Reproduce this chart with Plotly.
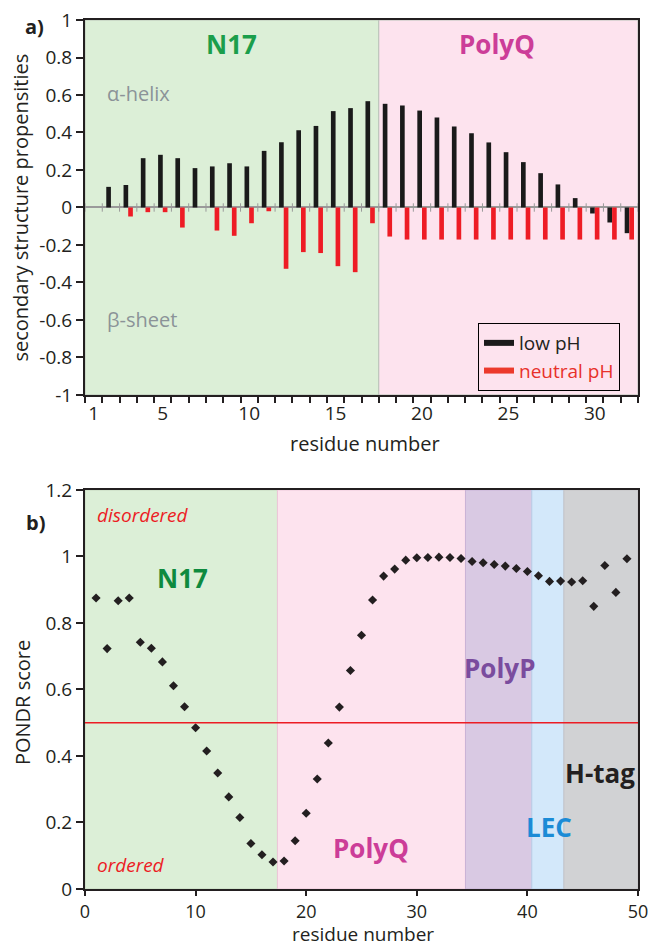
import plotly.graph_objects as go

# ---------------- data: panel a ----------------
residues_a = list(range(2, 33))
low_pH = [0.11, 0.12, 0.263, 0.281, 0.263, 0.21, 0.219, 0.236, 0.219, 0.302,
          0.348, 0.412, 0.435, 0.514, 0.53, 0.567,
          0.553, 0.544, 0.517, 0.48, 0.432, 0.396, 0.347, 0.295, 0.242, 0.183,
          0.123, 0.05, -0.032, -0.08, -0.137]
neutral_pH = [0.0, -0.048, -0.025, -0.025, -0.107, 0.0, -0.123, -0.151, -0.084, -0.02,
              -0.327, -0.238, -0.243, -0.313, -0.345, -0.084,
              -0.155, -0.171, -0.171, -0.171, -0.171, -0.171, -0.171, -0.171, -0.171,
              -0.171, -0.171, -0.171, -0.171, -0.171, -0.171]
a_xtick_vals = [1, 5, 10, 15, 20, 25, 30]
a_ytick_vals = [1, 0.8, 0.6, 0.4, 0.2, 0, -0.2, -0.4, -0.6, -0.8, -1]
a_regions = ["N17", "PolyQ"]
a_region_bounds = [0.5, 17.5, 32.5]

# ---------------- data: panel b ----------------
residues_b = list(range(1, 50))
pondr = [0.875, 0.723, 0.867, 0.875, 0.742, 0.724, 0.683, 0.611, 0.548, 0.485,
         0.415, 0.349, 0.277, 0.215, 0.137, 0.103, 0.081, 0.084, 0.145, 0.228,
         0.331, 0.439, 0.547, 0.657, 0.763, 0.869, 0.941, 0.962, 0.989, 0.996,
         0.997, 0.998, 0.997, 0.994, 0.985, 0.981, 0.976, 0.971, 0.964, 0.955,
         0.942, 0.925, 0.926, 0.923, 0.927, 0.850, 0.973, 0.892, 0.993]
threshold = 0.5
b_regions = ["N17", "PolyQ", "PolyP", "LEC", "H-tag"]
b_region_bounds = [0, 17.4, 34.4, 40.4, 43.3, 50]
b_xtick_vals = [0, 10, 20, 30, 40, 50]
b_ytick_vals = [0, 0.2, 0.4, 0.6, 0.8, 1, 1.2]

# ---------------- styles ----------------
FONT = "Open Sans"
TXT = "#231f20"
fill_colors = {"N17": "#dcefd7", "PolyQ": "#fde3ee", "PolyP": "#d9c9e3",
               "LEC": "#d3e8fa", "H-tag": "#d1d2d4"}
edge_colors = {"N17": "#c3d6be", "PolyQ": "#ecc6d8", "PolyP": "#c9b2d6",
               "LEC": "#b9cfe8", "H-tag": "#c4c4c6"}

fig = go.Figure()

fig.add_trace(go.Bar(x=residues_a, y=low_pH, marker=dict(color="#1a1a1a", line=dict(width=0)),
                     showlegend=False, xaxis="x", yaxis="y"))
fig.add_trace(go.Bar(x=residues_a, y=neutral_pH, marker=dict(color="#ee1c25", line=dict(width=0)),
                     showlegend=False, xaxis="x", yaxis="y"))
# legend entries with line swatches
fig.add_trace(go.Scatter(x=[None], y=[None], mode="lines", line=dict(color="#1a1a1a", width=6),
                         name="low pH", xaxis="x", yaxis="y"))
fig.add_trace(go.Scatter(x=[None], y=[None], mode="lines", line=dict(color="#ec3a2c", width=6),
                         name='<span style="color:#e8312a">neutral pH</span>', xaxis="x", yaxis="y"))
# small gray tick marks on the zero line
zero_ticks = [r - 0.5 for r in range(1, 34)]
fig.add_trace(go.Scatter(x=zero_ticks, y=[0] * len(zero_ticks), mode="markers",
                         marker=dict(symbol="line-ns", size=6, line=dict(color="#9a9a9a", width=1)),
                         showlegend=False, hoverinfo="skip", xaxis="x", yaxis="y"))

fig.add_trace(go.Scatter(x=residues_b, y=pondr, mode="markers",
                         marker=dict(symbol="diamond", size=7, color="#231f20"),
                         showlegend=False, xaxis="x2", yaxis="y2"))

shapes = []
for i, name in enumerate(a_regions):
    shapes.append(dict(type="rect", xref="x", yref="y", x0=a_region_bounds[i], x1=a_region_bounds[i + 1],
                       y0=-1, y1=1, fillcolor=fill_colors[name], layer="below",
                       line=dict(color="#b9c3b8", width=1)))
for i, name in enumerate(b_regions):
    shapes.append(dict(type="rect", xref="x2", yref="y2", x0=b_region_bounds[i], x1=b_region_bounds[i + 1],
                       y0=0, y1=1.2, fillcolor=fill_colors[name], layer="below",
                       line=dict(color=edge_colors[name], width=1)))
shapes.append(dict(type="line", xref="x2 domain", yref="y2", x0=0, x1=1, y0=threshold, y1=threshold,
                   line=dict(color="#ec1c24", width=1.5), layer="above"))

def fmt(v):
    return f"{v:g}"

ann = []
def label(text, x, y, xref, yref, size, color, bold=False, italic=False, xanchor="center",
          yanchor="middle", angle=0):
    t = text
    if bold:
        t = f"<b>{t}</b>"
    if italic:
        t = f"<i>{t}</i>"
    ann.append(dict(text=t, x=x, y=y, xref=xref, yref=yref, showarrow=False, xanchor=xanchor,
                    yanchor=yanchor, textangle=angle, borderpad=0,
                    font=dict(family=FONT, size=size, color=color)))

# panel a labels
label("N17", 9, 0.87, "x", "y", 26, "#1b9e4b", bold=True)
label("PolyQ", 24.35, 0.87, "x", "y", 26, "#cc3d98", bold=True)
label("α-helix", 1.7, 0.61, "x", "y", 20, "#8b9398", xanchor="left")
label("β-sheet", 1.7, -0.595, "x", "y", 20, "#8b9398", xanchor="left")
# panel b labels
label("disordered", 1.0, 1.126, "x2", "y2", 19, "#ec1c24", italic=True, xanchor="left")
label("ordered", 1.0, 0.073, "x2", "y2", 19, "#ec1c24", italic=True, xanchor="left")
label("N17", 8.86, 0.936, "x2", "y2", 26, "#0e8a3e", bold=True)
label("PolyQ", 25.86, 0.124, "x2", "y2", 26, "#cc3d98", bold=True)
label("PolyP", 37.5, 0.666, "x2", "y2", 26, "#7a4c9e", bold=True)
label("LEC", 41.95, 0.187, "x2", "y2", 26, "#1b8bd6", bold=True)
label("H-tag", 46.6, 0.35, "x2", "y2", 26, "#231f20", bold=True)
# axis titles & panel letters (paper coords)
label("residue number", 0.506, 0.5132, "paper", "paper", 20, TXT)
label("residue number", 0.503, (889 - 948) / 869, "paper", "paper", 19, TXT, yanchor="bottom")
label("secondary structure propensities", -0.1157, 0.7842, "paper", "paper", 20, TXT, angle=-90)
label("PONDR score", -0.1139, 0.214, "paper", "paper", 20, TXT, angle=-90)
label("a)", -0.092, 0.992, "paper", "paper", 20, TXT, bold=True)
label("b)", -0.090, 0.4223, "paper", "paper", 20, TXT, bold=True)

axis_common = dict(showgrid=False, showline=True, linecolor="#231f20", linewidth=2, mirror=True,
                   tickfont=dict(family=FONT, size=19, color=TXT), automargin=False)

fig.update_layout(
    width=653, height=949,
    margin=dict(l=85, r=15, t=20, b=60),
    paper_bgcolor="white", plot_bgcolor="white",
    barmode="group", bargap=0.46, bargroupgap=0,
    font=dict(family=FONT, size=19, color=TXT),
    xaxis=dict(domain=[0, 1], anchor="y", range=[0.5, 32.5], tickmode="array",
               tickvals=a_xtick_vals, ticks="", zeroline=False,
               minor=dict(tickmode="array", tickvals=zero_ticks, ticks="outside", ticklen=6,
                          tickwidth=1.5, tickcolor="#231f20"),
               **axis_common),
    yaxis=dict(domain=[0.5685, 1], anchor="x", range=[-1, 1], tickmode="array",
               tickvals=a_ytick_vals, ticktext=[fmt(v) for v in a_ytick_vals],
               ticks="outside", ticklen=7, tickwidth=1.5, tickcolor="#231f20",
               zeroline=True, zerolinecolor="#9a9a9a", zerolinewidth=1.5,
               **axis_common),
    xaxis2=dict(domain=[0, 1], anchor="y2", range=[0, 50], tickmode="array",
                tickvals=b_xtick_vals, ticks="outside", ticklen=5, tickwidth=1.5,
                tickcolor="#231f20", zeroline=False,
                **{**axis_common, "tickfont": dict(family=FONT, size=18, color=TXT)}),
    yaxis2=dict(domain=[0, 0.4592], anchor="x2", range=[0, 1.2], tickmode="array",
                tickvals=b_ytick_vals, ticktext=[fmt(v) for v in b_ytick_vals],
                ticks="outside", ticklen=7, tickwidth=1.5, tickcolor="#231f20",
                zeroline=False, **axis_common),
    legend=dict(x=0.7107, y=0.6513, xanchor="left", yanchor="top",
                bgcolor="rgba(0,0,0,0)", bordercolor="#000000", borderwidth=1,
                font=dict(family=FONT, size=19, color=TXT)),
    shapes=shapes,
    annotations=ann,
)

fig.write_html("out.html")
